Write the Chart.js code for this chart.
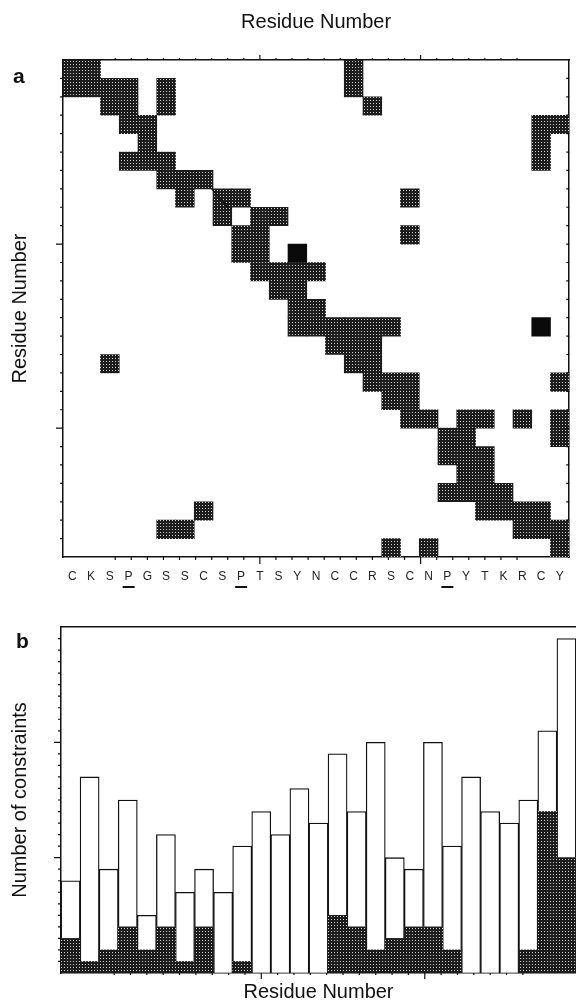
<!DOCTYPE html>
<html>
<head>
<meta charset="utf-8">
<script src="https://cdn.jsdelivr.net/npm/chart.js@4"></script>
<style>
  html, body { margin: 0; padding: 0; background: #fff; }
  canvas { display: block; }
</style>
</head>
<body>
<canvas id="contactChart" width="576" height="600"></canvas>
<canvas id="constraintChart" width="576" height="404"></canvas>
<script>
// sequence along both axes
const residues = ["C","K","S","P","G","S","S","C","S","P","T","S","Y","N","C","C","R","S","C","N","P","Y","T","K","R","C","Y"];
const prolineSites = [3, 9, 20];

// contact map: shaded columns for each row (row 0 at top)
const contactRows = [
  [0, 1, 15],
  [0, 1, 2, 3, 5, 15],
  [2, 3, 5, 16],
  [3, 4, 25, 26],
  [4, 25],
  [3, 4, 5, 25],
  [5, 6, 7],
  [6, 8, 9, 18],
  [8, 10, 11],
  [9, 10, 18],
  [9, 10, 12],
  [10, 11, 12, 13],
  [11, 12],
  [12, 13],
  [12, 13, 14, 15, 16, 17, 25],
  [14, 15, 16],
  [2, 15, 16],
  [16, 17, 18, 26],
  [17, 18],
  [18, 19, 21, 22, 24, 26],
  [20, 21, 26],
  [20, 21, 22],
  [21, 22],
  [20, 21, 22, 23],
  [7, 22, 23, 24, 25],
  [5, 6, 24, 25, 26],
  [17, 19, 26],
];
const solidCells = [[10, 12], [14, 25]];
const tracedCells = [[7, 7]];

// panel b: shaded (lower) and open (upper) parts of each bar
const shadedPart = [3, 1, 2, 4, 2, 4, 1, 4, 0, 1, 0, 0, 0, 0, 5, 4, 2, 3, 4, 4, 2, 0, 0, 0, 2, 14, 10];
const openPart = [5, 16, 7, 11, 3, 8, 6, 5, 7, 10, 14, 12, 16, 13, 14, 10, 18, 7, 5, 16, 9, 17, 14, 13, 13, 7, 19];
const constraintMax = 30;

Chart.defaults.font.family = "'Liberation Sans', Arial, Helvetica, sans-serif";
Chart.defaults.color = "#111";

const INK = "#111";

function stipple(canvas) {
  const tile = document.createElement("canvas");
  tile.width = 3;
  tile.height = 3;
  const t = tile.getContext("2d");
  t.fillStyle = "#1c1c1c";
  t.fillRect(0, 0, 3, 3);
  t.fillStyle = "#cfcfcf";
  t.fillRect(1, 1, 1, 1);
  return canvas.getContext("2d").createPattern(tile, "repeat");
}

// small tick marks round the frame, longer every tenth
const frameTicks = {
  id: "frameTicks",
  afterDraw(chart, args, opts) {
    const { ctx, chartArea: a } = chart;
    ctx.save();
    ctx.strokeStyle = INK;
    ctx.lineWidth = 1.2;
    ctx.beginPath();
    opts.marks.forEach((m) => {
      const scale = chart.scales[m.scale];
      for (let k = 1; k < m.count; k++) {
        const len = k % 10 === 0 ? m.major : m.minor;
        const p = scale.getPixelForValue(k);
        if (m.side === "top") { ctx.moveTo(p, a.top); ctx.lineTo(p, a.top - len); }
        if (m.side === "bottom") { ctx.moveTo(p, a.bottom); ctx.lineTo(p, a.bottom + len); }
        if (m.side === "left") { ctx.moveTo(a.left, p); ctx.lineTo(a.left - len, p); }
        if (m.side === "right") { ctx.moveTo(a.right, p); ctx.lineTo(a.right - len, p); }
      }
    });
    ctx.stroke();
    ctx.restore();
  },
};

const panelTag = {
  id: "panelTag",
  afterDraw(chart, args, opts) {
    const { ctx } = chart;
    ctx.save();
    ctx.fillStyle = INK;
    ctx.font = "bold 21px 'Liberation Sans', Arial, sans-serif";
    ctx.textBaseline = "alphabetic";
    ctx.fillText(opts.text, opts.x, opts.y);
    ctx.restore();
  },
};

// underline the prolines and trace the odd diagonal cell
const mapExtras = {
  id: "mapExtras",
  afterDraw(chart) {
    const { ctx, chartArea: a, scales } = chart;
    ctx.save();
    ctx.strokeStyle = INK;
    ctx.lineWidth = 2;
    ctx.beginPath();
    prolineSites.forEach((i) => {
      const cx = scales.x.getPixelForValue(i);
      ctx.moveTo(cx - 6, a.bottom + 30);
      ctx.lineTo(cx + 6, a.bottom + 30);
    });
    ctx.stroke();
    ctx.lineWidth = 1.2;
    ctx.beginPath();
    tracedCells.forEach(([r, c]) => {
      ctx.moveTo(scales.xTop.getPixelForValue(c), scales.y.getPixelForValue(r));
      ctx.lineTo(scales.xTop.getPixelForValue(c + 1), scales.y.getPixelForValue(r + 1));
    });
    ctx.stroke();
    ctx.restore();
  },
};

const plainAxis = {
  grid: { display: false, drawTicks: false },
  border: { display: true, color: INK, width: 1.5 },
  ticks: { display: false },
};

// ---- panel a: contact map ----
const contactCanvas = document.getElementById("contactChart");
const mapFill = stipple(contactCanvas);
const isSolid = (r, c) => solidCells.some(([sr, sc]) => sr === r && sc === c);

const contactDatasets = contactRows.map((cols, r) => ({
  data: residues.map((_, c) => (cols.includes(c) ? [r, r + 1] : null)),
  backgroundColor: (ctx) => (isSolid(r, ctx.dataIndex) ? "#0a0a0a" : mapFill),
  borderWidth: 0,
  grouped: false,
  barPercentage: 1,
  categoryPercentage: 1,
  xAxisID: "x",
  yAxisID: "y",
}));

new Chart(contactCanvas, {
  type: "bar",
  data: { labels: residues, datasets: contactDatasets },
  options: {
    responsive: false,
    animation: false,
    events: [],
    layout: { padding: 0 },
    plugins: {
      legend: { display: false },
      tooltip: { enabled: false },
      frameTicks: {
        marks: [
          { scale: "xTop", side: "top", count: 27, minor: 2, major: 5 },
          { scale: "xTop", side: "bottom", count: 27, minor: 3, major: 7 },
          { scale: "y", side: "left", count: 27, minor: 3, major: 7 },
          { scale: "y", side: "right", count: 27, minor: 3, major: 3 },
        ],
      },
      panelTag: { text: "a", x: 13, y: 83 },
    },
    scales: {
      x: {
        type: "category",
        position: "bottom",
        grid: { display: false, drawTicks: false },
        border: { display: true, color: INK, width: 1.5 },
        ticks: { autoSkip: false, maxRotation: 0, minRotation: 0, padding: 12, color: "#222", font: { size: 12 } },
        afterFit: (s) => { s.height = 43; },
      },
      xTop: {
        ...plainAxis,
        type: "linear",
        position: "top",
        min: 0,
        max: 27,
        title: { display: true, text: "Residue Number", font: { size: 20 }, color: INK, padding: { top: 10, bottom: 0 } },
        afterFit: (s) => { s.height = 60; },
      },
      y: {
        ...plainAxis,
        type: "linear",
        min: 0,
        max: 27,
        reverse: true,
        title: { display: true, text: "Residue Number", font: { size: 20 }, color: INK, padding: { top: 8, bottom: 0 } },
        afterFit: (s) => { s.width = 63; },
      },
      yRight: {
        ...plainAxis,
        type: "linear",
        position: "right",
        min: 0,
        max: 27,
        reverse: true,
        afterFit: (s) => { s.width = 2; },
      },
    },
  },
  plugins: [frameTicks, panelTag, mapExtras],
});

// ---- panel b: constraints per residue ----
const constraintCanvas = document.getElementById("constraintChart");
const barFill = stipple(constraintCanvas);

new Chart(constraintCanvas, {
  type: "bar",
  data: {
    labels: residues,
    datasets: [
      {
        label: "shaded",
        data: shadedPart,
        backgroundColor: barFill,
        borderWidth: 0,
        barPercentage: 1,
        categoryPercentage: 1,
        xAxisID: "x",
        yAxisID: "y",
      },
      {
        label: "open",
        data: openPart,
        backgroundColor: "#fff",
        borderColor: INK,
        borderWidth: 1.3,
        borderSkipped: "start",
        barPercentage: 1,
        categoryPercentage: 1,
        xAxisID: "x",
        yAxisID: "y",
      },
    ],
  },
  options: {
    responsive: false,
    animation: false,
    events: [],
    layout: { padding: 0 },
    plugins: {
      legend: { display: false },
      tooltip: { enabled: false },
      frameTicks: {
        marks: [
          { scale: "xTop", side: "bottom", count: 27, minor: 2, major: 6 },
          { scale: "y", side: "left", count: constraintMax, minor: 3, major: 7 },
        ],
      },
      panelTag: { text: "b", x: 16, y: 48 },
    },
    scales: {
      x: {
        ...plainAxis,
        type: "category",
        stacked: true,
        title: { display: true, text: "Residue Number", font: { size: 20 }, color: INK, padding: { top: 0, bottom: 0 } },
        afterFit: (s) => { s.height = 31; },
      },
      xTop: {
        ...plainAxis,
        type: "linear",
        position: "top",
        min: 0,
        max: 27,
        afterFit: (s) => { s.height = 27; },
      },
      y: {
        ...plainAxis,
        type: "linear",
        stacked: true,
        min: 0,
        max: constraintMax,
        title: { display: true, text: "Number of constraints", font: { size: 20 }, color: INK, padding: { top: 8, bottom: 0 } },
        afterFit: (s) => { s.width = 61; },
      },
    },
  },
  plugins: [frameTicks, panelTag],
});
</script>
</body>
</html>
